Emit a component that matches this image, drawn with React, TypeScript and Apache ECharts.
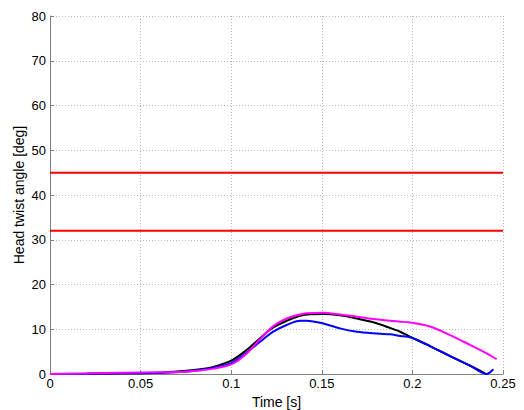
import React, { useEffect, useRef } from "react";
import * as echarts from "echarts";

const xTicks = [0, 0.05, 0.1, 0.15, 0.2, 0.25];
const yTicks = [0, 10, 20, 30, 40, 50, 60, 70, 80];

const blackTime = [0, 0.02, 0.04, 0.06, 0.0717, 0.0828, 0.0901, 0.1003, 0.1086, 0.1159, 0.1232, 0.1306, 0.138, 0.1417, 0.1508, 0.16, 0.1693, 0.1784, 0.1876, 0.1932, 0.1987, 0.2097, 0.2208, 0.2318, 0.2401];
const blackAngle = [0, 0.05, 0.15, 0.3, 0.6, 1.05, 1.6, 3.05, 5.4, 8.0, 10.4, 11.9, 13.0, 13.3, 13.4, 13.1, 12.4, 11.55, 10.3, 9.45, 8.35, 6.25, 4.0, 1.85, 0.15];

const blueTime = [0, 0.03, 0.06, 0.0717, 0.0828, 0.0901, 0.1003, 0.1086, 0.1159, 0.1232, 0.1306, 0.138, 0.1417, 0.1508, 0.16, 0.1693, 0.1784, 0.1876, 0.1932, 0.1987, 0.2097, 0.2208, 0.2318, 0.241, 0.2447];
const blueAngle = [0, 0.1, 0.25, 0.45, 0.9, 1.4, 2.5, 4.8, 7.2, 9.45, 10.95, 11.9, 11.9, 11.3, 10.2, 9.45, 9.1, 8.9, 8.5, 8.2, 6.25, 4.0, 1.85, 0, 1.05];

const magentaTime = [0, 0.02, 0.04, 0.06, 0.0717, 0.0828, 0.0901, 0.1003, 0.1086, 0.1159, 0.1232, 0.1306, 0.138, 0.1417, 0.1508, 0.16, 0.1693, 0.1784, 0.1876, 0.1932, 0.1987, 0.2097, 0.2208, 0.2318, 0.241, 0.2465];
const magentaAngle = [0, 0.1, 0.3, 0.4, 0.45, 0.8, 1.2, 2.2, 4.6, 7.75, 10.7, 12.4, 13.3, 13.55, 13.7, 13.3, 12.8, 12.3, 11.9, 11.7, 11.5, 10.6, 8.7, 6.5, 4.6, 3.3];

const limitTime = [0, 0.25];
const limitHigh = 45;
const limitLow = 32;

const zip = (t: number[], v: number[]) => t.map((x, i) => [x, v[i]]);

export default function App() {
  const ref = useRef<HTMLDivElement>(null);
  useEffect(() => {
    if (!ref.current) return;
    const chart = echarts.init(ref.current, null, { renderer: "svg" });
    const font = "Liberation Sans, Arial, sans-serif";
    const axisColor = "#808080";
    const gridLine = { show: true, lineStyle: { color: "#b8b8b8", type: [1, 2] as any, width: 1 } };
    chart.setOption({
      animation: false,
      grid: { left: 50, right: 21, top: 16, bottom: 36, containLabel: false, outerBoundsMode: "none" },
      xAxis: {
        type: "value",
        min: 0,
        max: 0.25,
        interval: 0.05,
        name: "Time [s]",
        nameLocation: "middle",
        nameGap: 16,
        nameTextStyle: { color: "#000", fontSize: 14, fontFamily: font },
        axisLine: { lineStyle: { color: axisColor, width: 1 } },
        axisTick: { inside: true, length: 4, lineStyle: { color: axisColor } },
        axisLabel: {
          color: "#000",
          fontSize: 13,
          fontFamily: font,
          margin: 3,
          formatter: (v: number) => {
            const t = xTicks.find((x) => Math.abs(x - v) < 1e-9);
            return t === undefined ? "" : String(t);
          },
        },
        splitLine: gridLine,
      },
      yAxis: {
        type: "value",
        min: 0,
        max: 80,
        interval: 10,
        name: "Head twist angle [deg]",
        nameLocation: "middle",
        nameGap: 24,
        nameMoveOverlap: false,
        nameTextStyle: { color: "#000", fontSize: 14, fontFamily: font },
        axisLine: { show: true, lineStyle: { color: axisColor, width: 1 } },
        axisTick: { show: true, inside: true, length: 4, lineStyle: { color: axisColor } },
        axisLabel: {
          color: "#000",
          fontSize: 13,
          fontFamily: font,
          margin: 4,
          formatter: (v: number) => (yTicks.includes(v) ? String(v) : ""),
        },
        splitLine: gridLine,
      },
      series: [
        {
          type: "line",
          data: zip(limitTime, [limitHigh, limitHigh]),
          showSymbol: false,
          lineStyle: { color: "#ff0000", width: 2 },
        },
        {
          type: "line",
          data: zip(limitTime, [limitLow, limitLow]),
          showSymbol: false,
          lineStyle: { color: "#ff0000", width: 2 },
        },
        {
          type: "line",
          data: zip(blackTime, blackAngle),
          showSymbol: false,
          smooth: 0.3,
          lineStyle: { color: "#000000", width: 2 },
        },
        {
          type: "line",
          data: zip(blueTime, blueAngle),
          showSymbol: false,
          smooth: 0.3,
          lineStyle: { color: "#0000ff", width: 2 },
        },
        {
          type: "line",
          data: zip(magentaTime, magentaAngle),
          showSymbol: false,
          smooth: 0.3,
          lineStyle: { color: "#ff00ff", width: 2 },
        },
      ],
    });
    return () => chart.dispose();
  }, []);
  return <div ref={ref} style={{ width: 524, height: 410, position: "absolute", left: 0, top: 0 }} />;
}
